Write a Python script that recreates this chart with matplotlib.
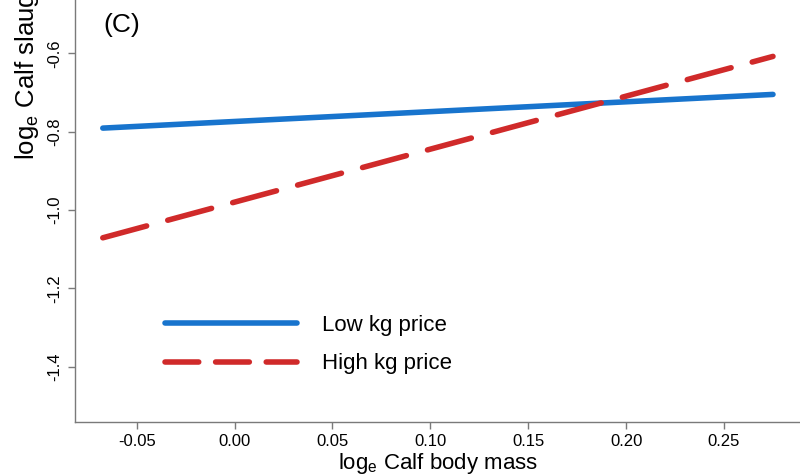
import matplotlib
matplotlib.use("Agg")
import matplotlib.pyplot as plt
from matplotlib.lines import Line2D

plt.rcParams['font.family'] = ['Liberation Sans', 'DejaVu Sans']
plt.rcParams['mathtext.default'] = 'regular'

# Fitted relationships at the two ends of the calf body mass range
body_mass = [-0.0673, 0.275]
low_price = [-0.791, -0.705]
high_price = [-1.071, -0.608]

series_labels = ["Low kg price", "High kg price"]
x_ticks = [-0.05, 0.00, 0.05, 0.10, 0.15, 0.20, 0.25]
x_tick_labels = ["-0.05", "0.00", "0.05", "0.10", "0.15", "0.20", "0.25"]
y_ticks = [-0.6, -0.8, -1.0, -1.2, -1.4]
y_tick_labels = ["-0.6", "-0.8", "-1.0", "-1.2", "-1.4"]

BLUE = "#1874CD"
RED = "#D02A2A"
AXIS_GREY = "#7a7a7a"
LW = 4.0

W, H = 800, 476
fig = plt.figure(figsize=(W / 100, H / 100), dpi=100)
ax = fig.add_axes([75 / W, 54.3 / H, 1 - 75 / W, 1 - 54.3 / H])

ax.plot(body_mass, low_price, color=BLUE, lw=LW, solid_capstyle='round')
ax.plot(body_mass, high_price, color=RED, lw=LW, linestyle=(0, (8.17, 3.94)),
        dash_capstyle='round')

ax.set_xlim(-0.0815, 0.2888)
ax.set_ylim(-1.5404, -0.464)

for side in ("top", "right"):
    ax.spines[side].set_visible(False)
for side in ("left", "bottom"):
    ax.spines[side].set_color(AXIS_GREY)
    ax.spines[side].set_linewidth(1.0)

ax.set_xticks(x_ticks)
ax.set_xticklabels(x_tick_labels)
ax.set_yticks(y_ticks)
ax.set_yticklabels(y_tick_labels)
ax.tick_params(axis='both', direction='out', length=5, width=1.0,
               color=AXIS_GREY, labelsize=12, labelcolor='black', pad=4)
for lab in ax.get_yticklabels():
    lab.set_rotation(90)
    lab.set_va('center')

ax.set_xlabel("log$_e$ Calf body mass", fontsize=16, labelpad=1)
fig.text(27 / W, 1 - 160 / H, "log$_e$ Calf slaughter price", rotation=90,
         ha='center', va='bottom', fontsize=18.5)

ax.text(103 / W, 1 - 25 / H, "(C)", transform=fig.transFigure,
        fontsize=19, ha='left', va='center')

handles = [
    Line2D([], [], color=BLUE, lw=LW, solid_capstyle='round'),
    Line2D([], [], color=RED, lw=LW, linestyle=(0, (6.07, 3.04)),
           dash_capstyle='round'),
]
ax.legend(handles, series_labels, loc='center left',
          bbox_to_anchor=(165 / W, 1 - 344.5 / H), bbox_transform=fig.transFigure,
          frameon=False, fontsize=16, handlelength=5.95, handletextpad=1.1,
          labelspacing=0.8, borderpad=0, borderaxespad=0)

fig.savefig("out.png", dpi=100)
